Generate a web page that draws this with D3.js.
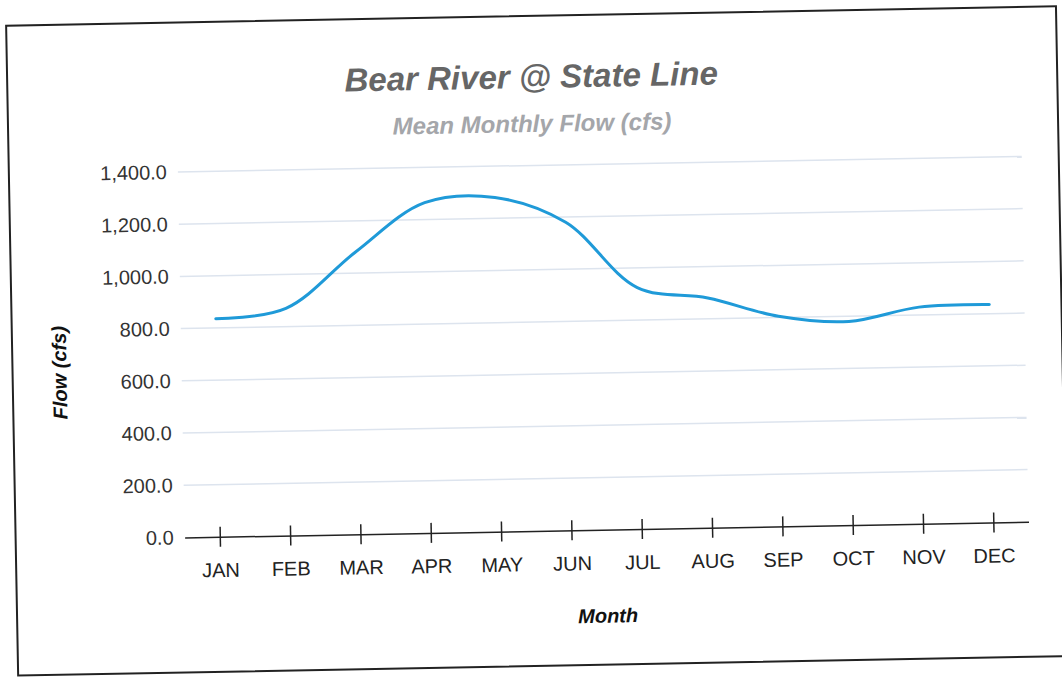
<!DOCTYPE html>
<html>
<head>
<meta charset="utf-8">
<style>
  body {margin: 0; background: #fff; font-family: "Liberation Sans", Arial, sans-serif;}
  .tick text {font-family: "Liberation Sans", Arial, sans-serif;}
</style>
<script src="https://d3js.org/d3.v7.min.js"></script>
</head>
<body>
  <div id="chart"></div>
  <script>

  const width = 1062
  const height = 677

  // values
  const months = ['JAN', 'FEB', 'MAR', 'APR', 'MAY', 'JUN', 'JUL', 'AUG', 'SEP', 'OCT', 'NOV', 'DEC']
  const flow = [835, 870, 1080, 1265, 1280, 1180, 925, 880, 805, 780, 830, 835]
  const yTicks = [0, 200, 400, 600, 800, 1000, 1200, 1400]

  const plot = {left: 181, right: 1025, top: 165.5, bottom: 531}

  const svg = d3.select('#chart').append('svg')
    .attr('width', width)
    .attr('height', height)

  svg.append('rect')
    .attr('width', width)
    .attr('height', height)
    .attr('fill', '#fff')

  // the scanned page sits a little crooked
  const page = svg.append('g')
    .attr('transform', 'rotate(-1.06, 531, 338)')

  page.append('rect')
    .attr('x', 12)
    .attr('y', 16)
    .attr('width', 1050)
    .attr('height', 650)
    .attr('fill', 'none')
    .attr('stroke', '#222')
    .attr('stroke-width', 2)

  const x = d3.scalePoint()
    .domain(months)
    .range([plot.left, plot.right])
    .padding(0.5)

  const y = d3.scaleLinear()
    .domain([0, 1400])
    .range([plot.bottom, plot.top])

  // gridlines
  page.append('g')
    .selectAll('line')
    .data(yTicks.filter(d => d > 0))
    .enter().append('line')
      .attr('x1', plot.left)
      .attr('x2', plot.right)
      .attr('y1', d => y(d))
      .attr('y2', d => y(d))
      .attr('stroke', '#dde4ee')
      .attr('stroke-width', 1.5)

  // y axis labels
  const yAxis = page.append('g')
    .attr('transform', 'translate(' + plot.left + ',0)')
    .call(d3.axisLeft(y).tickValues(yTicks).tickFormat(d3.format(',.1f')).tickSize(0).tickPadding(11))
  yAxis.select('.domain').remove()
  yAxis.selectAll('text')
    .style('font-size', '20px')
    .attr('fill', '#333')

  // x axis, ticks cross the line
  const xAxis = page.append('g')
    .attr('transform', 'translate(0,' + plot.bottom + ')')
    .call(d3.axisBottom(x).tickSize(10).tickSizeOuter(0).tickPadding(16))
  xAxis.select('.domain')
    .attr('stroke', '#222')
    .attr('stroke-width', 1.5)
  xAxis.selectAll('.tick line')
    .attr('y1', -10)
    .attr('stroke', '#222')
    .attr('stroke-width', 1.5)
  xAxis.selectAll('text')
    .style('font-size', '20px')
    .attr('fill', '#222')

  const line = d3.line()
    .x((d, i) => x(months[i]))
    .y(d => y(d))
    .curve(d3.curveCatmullRom.alpha(0.5))

  page.append('path')
    .datum(flow)
    .attr('d', line)
    .attr('fill', 'none')
    .attr('stroke', '#1f9ad8')
    .attr('stroke-width', 3)
    .attr('stroke-linecap', 'round')

  // titles
  page.append('text')
    .attr('x', 536)
    .attr('y', 88)
    .attr('text-anchor', 'middle')
    .style('font-size', '33px')
    .style('font-weight', 'bold')
    .style('font-style', 'italic')
    .attr('fill', '#666')
    .text('Bear River @ State Line')

  page.append('text')
    .attr('x', 536)
    .attr('y', 132)
    .attr('text-anchor', 'middle')
    .style('font-size', '24px')
    .style('font-weight', 'bold')
    .style('font-style', 'italic')
    .attr('fill', '#a4a6aa')
    .text('Mean Monthly Flow (cfs)')

  page.append('text')
    .attr('x', (plot.left + plot.right) / 2)
    .attr('y', 624)
    .attr('text-anchor', 'middle')
    .style('font-size', '20px')
    .style('font-weight', 'bold')
    .style('font-style', 'italic')
    .attr('fill', '#111')
    .text('Month')

  page.append('text')
    .attr('transform', 'translate(66,364) rotate(-90)')
    .attr('text-anchor', 'middle')
    .style('font-size', '20px')
    .style('font-weight', 'bold')
    .style('font-style', 'italic')
    .attr('fill', '#111')
    .text('Flow (cfs)')

  </script>
</body>
</html>
